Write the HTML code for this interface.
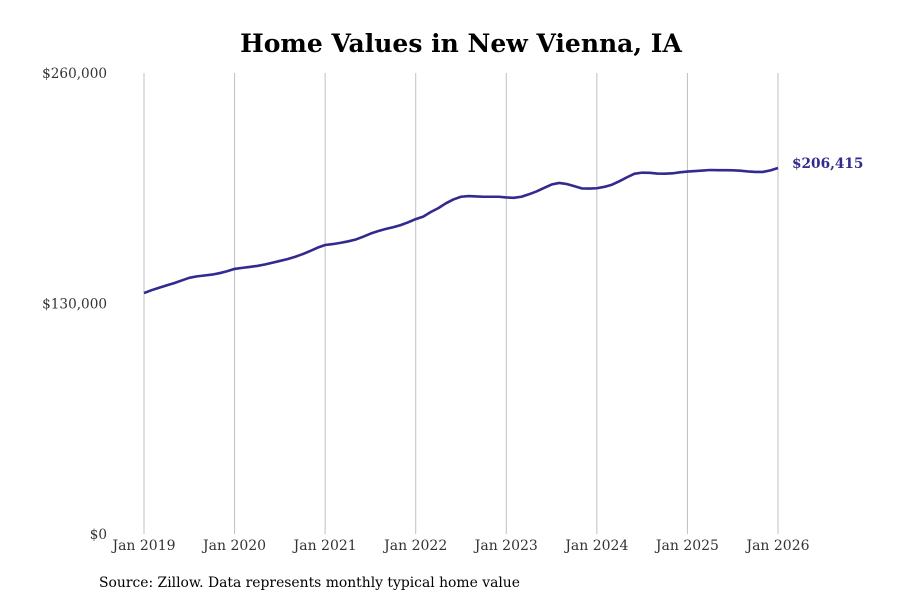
<!DOCTYPE html>
<html><head><meta charset="utf-8">
<style>
body{margin:0;background:#fff;}
svg text{font-family:"DejaVu Serif","Liberation Serif",serif;}
</style></head>
<body>
<svg id="chart" width="900" height="600" viewBox="0 0 900 600" xmlns="http://www.w3.org/2000/svg">
<text x="461" y="52" text-anchor="middle" font-size="25" font-weight="bold" fill="#000">Home Values in New Vienna, IA</text>
<g id="grid"></g>
<g id="yaxis"></g>
<g id="xaxis"></g>
<path id="line" fill="none" stroke="#332a8f" stroke-width="2.6" stroke-linejoin="round"/>
<text id="endlabel" font-size="13.7" font-weight="bold" fill="#332a8f"></text>
<text x="99" y="587" font-size="13.9" fill="#000">Source: Zillow. Data represents monthly typical home value</text>
</svg>
<script>
const yTicks=[0,130000,260000];
const yTickLabels=["$0","$130,000","$260,000"];
const xYears=[2019,2020,2021,2022,2023,2024,2025,2026];
const xTickLabels=["Jan 2019","Jan 2020","Jan 2021","Jan 2022","Jan 2023","Jan 2024","Jan 2025","Jan 2026"];
const startYear=2019;
const values=[
135.9,137.5,138.9,140.2,141.5,143,144.5,145.3,145.8,146.3,147.1,148.2,
149.5,150.1,150.6,151.2,152,153,154,155,156.3,157.8,159.6,161.5,
163,163.5,164.2,165,166,167.6,169.4,170.8,172,173,174.2,175.8,
177.6,179,181.6,183.8,186.5,188.7,190.2,190.6,190.4,190.2,190.2,190.2,
189.8,189.6,190.2,191.6,193.2,195.2,197.1,198,197.4,196.2,194.9,194.8,
195,195.8,197,199,201.2,203.2,203.8,203.7,203.3,203.2,203.4,204,
204.4,204.7,205,205.3,205.2,205.2,205.1,204.9,204.5,204.2,204.2,205.1,
206.415
].map(v=>v*1000);
const endLabel="$206,415";

const x0=144,x1=778,y0=534,y1=73;
const xs=t=>x0+(t-2019)*(x1-x0)/7;
const ys=v=>y0-v*(y0-y1)/260000;
const NS="http://www.w3.org/2000/svg";
const grid=document.getElementById('grid'),xa=document.getElementById('xaxis'),ya=document.getElementById('yaxis');
xYears.forEach((yr,i)=>{
  const l=document.createElementNS(NS,'line');
  
  
  l.setAttribute('x1',xs(yr));l.setAttribute('x2',xs(yr));l.setAttribute('y1',y1);l.setAttribute('y2',y0);
  l.setAttribute('stroke','#c0c0c0');l.setAttribute('stroke-width','1');
  grid.appendChild(l);
  const t=document.createElementNS(NS,'text');
  
  
  t.setAttribute('x',xs(yr));t.setAttribute('y',550);t.setAttribute('text-anchor','middle');
  t.setAttribute('font-size','14');t.setAttribute('fill','#333');
  t.textContent=xTickLabels[i];xa.appendChild(t);
});
yTicks.forEach((v,i)=>{
  const t=document.createElementNS(NS,'text');
  
  
  t.setAttribute('x',107);t.setAttribute('y',ys(v)+5);t.setAttribute('text-anchor','end');
  t.setAttribute('font-size','13.6');t.setAttribute('fill','#333');
  t.textContent=yTickLabels[i];ya.appendChild(t);
});
let d='';
values.forEach((v,i)=>{d+=(i?'L':'M')+xs(startYear+i/12).toFixed(2)+','+ys(v).toFixed(2);});
document.getElementById('line').setAttribute('d',d);
const last=values[values.length-1];
const el=document.getElementById('endlabel');
el.setAttribute('x',xs(startYear+(values.length-1)/12)+14);
el.setAttribute('y',ys(last)+0);
el.textContent=endLabel;
</script>
</body></html>
